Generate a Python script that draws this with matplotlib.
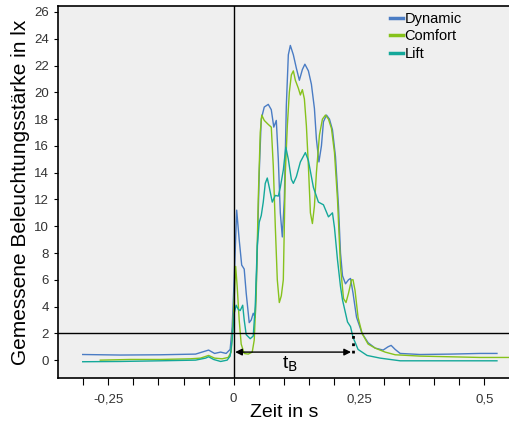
import matplotlib
matplotlib.use('Agg')
import matplotlib.pyplot as plt
from matplotlib.lines import Line2D
import numpy as np

plt.rcParams['font.family'] = ['Liberation Sans', 'DejaVu Sans']

# Zeit in s / Beleuchtungsstärke in lx
t_dyn = [-0.301, -0.226, -0.146, -0.076, -0.050, -0.038, -0.026, -0.015, -0.007, -0.003,
         0.001, 0.006, 0.011, 0.016, 0.021, 0.025, 0.031, 0.035, 0.039, 0.043,
         0.047, 0.051, 0.055, 0.061, 0.069, 0.075, 0.080, 0.085, 0.089, 0.093,
         0.097, 0.101, 0.105, 0.109, 0.113, 0.119, 0.125, 0.131, 0.137, 0.142,
         0.149, 0.155, 0.161, 0.165, 0.170, 0.175, 0.179, 0.185, 0.191, 0.197,
         0.203, 0.209, 0.213, 0.217, 0.223, 0.229, 0.233, 0.238, 0.245, 0.256,
         0.268, 0.282, 0.298, 0.308, 0.314, 0.322, 0.332, 0.372, 0.432, 0.491, 0.525]
e_dyn = [0.42, 0.38, 0.40, 0.45, 0.75, 0.5, 0.6, 0.5, 0.8, 2.5,
         6.0, 11.2, 9.0, 7.1, 6.8, 5.0, 2.8, 3.0, 3.5, 3.2,
         8.0, 14.0, 18.0, 18.9, 19.1, 18.7, 17.4, 17.9, 15.0, 11.0,
         9.2, 12.0, 19.0, 22.8, 23.5, 22.8, 21.8, 20.9, 21.7, 22.1,
         21.6, 20.6, 18.8, 16.5, 14.8, 16.0, 17.8, 18.3, 18.0, 17.2,
         15.2, 11.5, 8.0, 6.3, 5.7, 6.0, 6.1, 5.0, 3.2, 2.0,
         1.3, 0.9, 0.75, 1.0, 1.1, 0.8, 0.5, 0.42, 0.45, 0.5, 0.5]

t_com = [-0.266, -0.206, -0.146, -0.086, -0.066, -0.050, -0.038, -0.023, -0.011, -0.005,
         -0.001, 0.004, 0.007, 0.011, 0.015, 0.021, 0.029, 0.037, 0.041, 0.045,
         0.049, 0.053, 0.056, 0.061, 0.069, 0.075, 0.079, 0.083, 0.087, 0.091,
         0.095, 0.099, 0.103, 0.107, 0.111, 0.115, 0.119, 0.123, 0.129, 0.133,
         0.137, 0.141, 0.145, 0.149, 0.153, 0.157, 0.161, 0.165, 0.171, 0.177,
         0.183, 0.189, 0.195, 0.201, 0.207, 0.213, 0.219, 0.224, 0.229, 0.235,
         0.238, 0.242, 0.248, 0.256, 0.268, 0.282, 0.302, 0.322, 0.372, 0.432, 0.491, 0.551]
e_com = [0.0, 0.05, 0.05, 0.1, 0.15, 0.35, 0.15, 0.1, 0.2, 0.6,
         3.0, 7.0, 5.5, 3.0, 1.2, 0.5, 0.45, 0.6, 1.5, 5.0,
         12.0, 17.0, 18.3, 17.9, 17.6, 17.4, 14.5, 10.0, 6.0, 4.3,
         4.8, 6.0, 14.0, 17.5, 20.0, 21.3, 21.6, 20.9, 20.3, 19.8,
         20.2, 19.5, 17.5, 14.5, 11.0, 10.2, 11.5, 14.0, 16.8, 18.0,
         18.3, 18.0, 17.3, 15.5, 12.0, 7.0, 4.6, 4.3, 5.0, 6.0,
         6.0, 5.2, 3.2, 2.0, 1.2, 0.9, 0.6, 0.4, 0.3, 0.25, 0.2, 0.2]

t_lift = [-0.301, -0.226, -0.146, -0.076, -0.056, -0.050, -0.040, -0.026, -0.013, -0.007,
          -0.003, 0.001, 0.005, 0.009, 0.013, 0.018, 0.021, 0.025, 0.033, 0.039,
          0.043, 0.047, 0.051, 0.055, 0.059, 0.063, 0.067, 0.071, 0.077, 0.083,
          0.089, 0.093, 0.099, 0.104, 0.109, 0.115, 0.119, 0.125, 0.133, 0.143,
          0.149, 0.159, 0.169, 0.179, 0.189, 0.197, 0.201, 0.207, 0.213, 0.217,
          0.227, 0.233, 0.238, 0.248, 0.266, 0.292, 0.332, 0.432, 0.525]
e_lift = [-0.12, -0.1, -0.05, 0.0, 0.15, 0.25, 0.05, -0.1, 0.0, 0.3,
          1.5, 3.5, 4.1, 3.8, 3.7, 4.1, 3.0, 1.9, 1.6, 1.8,
          4.0, 8.5, 10.3, 10.8, 11.8, 13.2, 13.6, 12.9, 11.8, 12.3,
          12.25, 12.9, 14.2, 15.9, 15.0, 13.5, 13.2, 13.7, 14.8, 15.5,
          14.9, 12.9, 11.8, 11.6, 10.7, 11.0, 9.9, 7.5, 5.5, 4.5,
          2.85, 2.5, 1.7, 0.8, 0.35, 0.15, -0.05, -0.05, -0.05]

x_ticks = [-0.30, -0.25, -0.20, -0.15, -0.10, -0.05, 0.0, 0.05, 0.10, 0.15,
           0.20, 0.25, 0.30, 0.35, 0.40, 0.45, 0.50]
x_labels = ['', '-0,25', '', '', '', '', '0', '', '', '', '', '0,25', '', '', '', '', '0,5']

c_dyn = '#4a7cc4'
c_com = '#86c21c'
c_lift = '#14a89a'

fig = plt.figure(figsize=(5.10, 4.24), dpi=100)
ax = fig.add_axes([0.114, 0.108, 0.886, 0.878])
ax.set_facecolor('#efefef')

ax.plot(t_dyn, e_dyn, color=c_dyn, lw=1.0)
ax.plot(t_com, e_com, color=c_com, lw=1.0)
ax.plot(t_lift, e_lift, color=c_lift, lw=1.0)

ax.axhline(2, color='black', lw=1.0)
ax.axvline(0, color='black', lw=1.0)

# Zeitspanne t_B
ax.annotate('', xy=(0.003, 0.6), xytext=(0.234, 0.6),
            arrowprops=dict(arrowstyle='<|-|>', color='black', lw=1.0, mutation_scale=10,
                            shrinkA=0, shrinkB=0))
ax.plot([0.237, 0.237], [0.5, 2.0], color='black', lw=2.0, ls=':')
ax.text(0.113, -0.35, r't$_\mathrm{B}$', fontsize=14, ha='center', va='center')

ax.set_xlim(-0.35, 0.551)
ax.set_ylim(-1.35, 26.45)
ax.set_xticks(x_ticks)
ax.set_xticklabels(x_labels, fontsize=9.5, color='#333333')
ax.set_yticks(np.arange(0, 27, 2))
ax.tick_params(axis='y', labelsize=9.5, labelcolor='#333333', length=3)
ax.tick_params(axis='x', length=5, pad=6)
ax.spines['right'].set_visible(False)
for s in ['left', 'bottom', 'top']:
    ax.spines[s].set_linewidth(1.2)

ax.set_xlabel('Zeit in s', fontsize=14, labelpad=-1)
ax.set_ylabel('Gemessene Beleuchtungsstärke in lx', fontsize=15, labelpad=3)

handles = [Line2D([], [], color=c_dyn, lw=2.5),
           Line2D([], [], color=c_com, lw=2.5),
           Line2D([], [], color=c_lift, lw=2.5)]
ax.legend(handles, ['Dynamic', 'Comfort', 'Lift'], loc='upper left',
          bbox_to_anchor=(0.705, 1.02), frameon=False, fontsize=10.5,
          handlelength=0.9, handletextpad=0.1, labelspacing=0.25)

fig.savefig('out.png', dpi=100)
